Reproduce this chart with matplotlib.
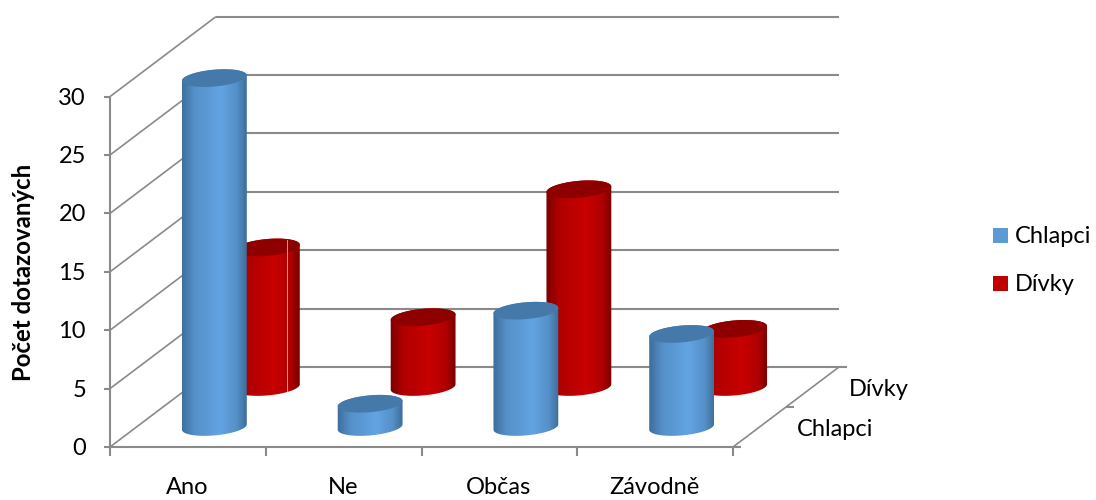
import matplotlib
matplotlib.use('Agg')
import matplotlib.pyplot as plt
from matplotlib.colors import LinearSegmentedColormap
from matplotlib.patches import Polygon, Rectangle
import numpy as np

categories = ['Ano', 'Ne', 'Občas', 'Závodně']
series_names = ['Chlapci', 'Dívky']
chlapci = [30, 2, 10, 8]
divky = [12, 6, 17, 5]
y_ticks = [0, 5, 10, 15, 20, 25, 30]

# oblique projection, everything in figure pixels
X0, Y0 = 110, 447
CAT_W = 155.75
DEPTH_X, DEPTH_Y = 106, -80
UNIT = 11.68
CYL_UNIT = 11.63
GREY = '#8a8a8a'
A, B, PHI = 32.5, 8.5, np.radians(4.5)

plt.rcParams['font.family'] = ['Lato', 'DejaVu Sans']

fig = plt.figure(figsize=(10.96, 5), dpi=100)
ax = fig.add_axes([0, 0, 1, 1])


def proj(cat, depth, val):
    return X0 + cat * CAT_W + depth * DEPTH_X, Y0 + depth * DEPTH_Y - val * UNIT


def line(p, q, lw=1.5):
    ax.plot([p[0], q[0]], [p[1], q[1]], color=GREY, lw=lw, solid_capstyle='butt', zorder=1)


def ellipse_pts(cx, cy, t):
    x = cx + A * np.cos(t) * np.cos(PHI) - B * np.sin(t) * np.sin(PHI)
    y = cy - A * np.cos(t) * np.sin(PHI) + B * np.sin(t) * np.cos(PHI)
    return np.column_stack([x, y])


def cylinder(cat, depth, val, dark, mid, bright, top_col, z):
    cx, base = proj(cat + 0.5, depth, 0)
    top = base - val * CYL_UNIT
    t0 = np.arctan2(B * np.sin(PHI), A * np.cos(PHI))
    lower = ellipse_pts(cx, base, np.linspace(-t0, np.pi - t0, 60))
    upper = ellipse_pts(cx, top, np.linspace(np.pi - t0, 2 * np.pi - t0, 60))
    body = Polygon(np.vstack([lower, upper]), closed=True, transform=ax.transData,
                   fc='none', ec='none')
    ax.add_patch(body)
    cmap = LinearSegmentedColormap.from_list(
        'side', [(0, dark), (0.2, mid), (0.6, bright), (0.85, mid), (1, dark)])
    im = ax.imshow(np.linspace(0, 1, 128).reshape(1, -1), cmap=cmap, aspect='auto',
                   extent=(cx - 33, cx + 33, base + 12, top - 12), zorder=z)
    im.set_clip_path(body)
    cap = ellipse_pts(cx, top, np.linspace(0, 2 * np.pi, 90))
    ax.add_patch(Polygon(cap, closed=True, fc=top_col, ec='none', zorder=z + 0.1))


# walls
for v in y_ticks:
    line(proj(0, 0, v), proj(0, 1, v), lw=1.2)
    line(proj(0, 1, v), proj(4, 1, v))
    left = proj(0, 0, v)
    line((left[0] - 6, left[1]), left)
line(proj(0, 0, 0), proj(0, 0, 30))

# floor
line(proj(0, 0, 0), proj(4, 0, 0))
line(proj(4, 0, 0), proj(4, 1, 0), lw=1.2)
for c in range(len(categories) + 1):
    p = proj(c, 0, 0)
    line(p, (p[0], p[1] + 9))
for d in [0, 0.5, 1]:
    p = proj(4, d, 0)
    line(p, (p[0] + 8, p[1]))

for c in range(len(categories)):
    cylinder(c, 0.75, divky[c], '#7a0000', '#b00000', '#c80000', '#8e0000', 3 + c)
for c in range(len(categories)):
    cylinder(c, 0.25, chlapci[c], '#3d6d9a', '#5590c8', '#62a4e3', '#4579a9', 10 + c)

# thin seam running down the drawing
ax.plot([287, 287], [240, 392], color='white', lw=0.7, alpha=0.6, zorder=20)

for v in y_ticks:
    ax.text(86, proj(0, 0, v)[1] + 1.5, str(v), ha='right', va='center', fontsize=17)
for c, name in enumerate(categories):
    ax.text(proj(c + 0.5, 0, 0)[0] - 1, 494, name, ha='center', va='baseline', fontsize=17)
ax.text(24, 272, 'Počet dotazovaných', rotation=90, ha='center', va='center',
        fontsize=17.3, fontweight='bold')
ax.text(797, 430, series_names[0], ha='left', va='center', fontsize=17)
ax.text(849, 390, series_names[1], ha='left', va='center', fontsize=17)

# legend
for name, col, ly in zip(series_names, ['#5b9bd5', '#c00000'], [235, 283]):
    ax.add_patch(Rectangle((993, ly - 7.5), 15, 15, fc=col, ec='none'))
    ax.text(1015, ly + 1.5, name, ha='left', va='center', fontsize=17)

ax.set_xlim(0, 1096)
ax.set_ylim(500, 0)
ax.axis('off')
fig.savefig('out.png', dpi=100)
